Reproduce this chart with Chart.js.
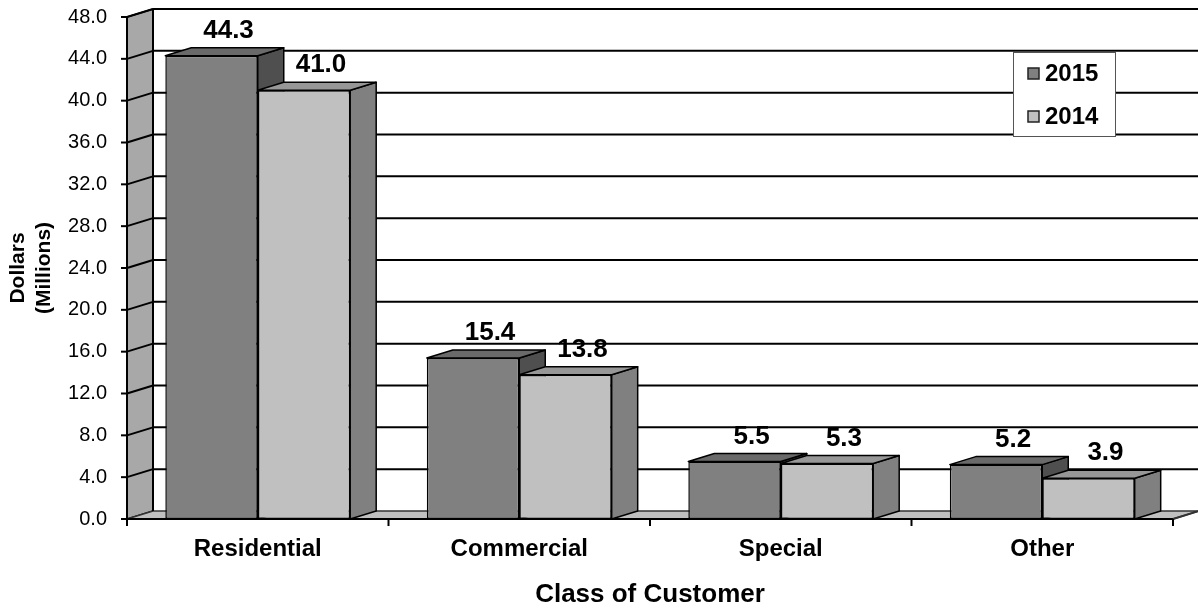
<!DOCTYPE html>
<html>
<head>
<meta charset="utf-8">
<script src="https://cdn.jsdelivr.net/npm/chart.js@4"></script>
<style>
  html, body { margin: 0; padding: 0; background: #fff; }
  canvas { display: block; }
</style>
</head>
<body>
<canvas id="c" width="1198" height="610"></canvas>
<script>
// Revenue by class of customer, 2015 vs 2014, in the old Excel 3-D column style.

const CATEGORIES = ["Residential", "Commercial", "Special", "Other"];
const SERIES_LABELS = ["2015", "2014"];
const VALUES_2015 = [44.3, 15.4, 5.5, 5.2];
const VALUES_2014 = [41.0, 13.8, 5.3, 3.9];
const Y_MIN = 0;
const Y_MAX = 48;
const Y_STEP = 4;

const FONT = "Arial, 'Liberation Sans', sans-serif";

// where the front plane of the plot should sit on the canvas
const AREA = { left: 127, top: 17, right: 1173, bottom: 519 };

// depth of the 3-D box (screen offset of the back plane)
const DX = 26;
const DY = -8;

// front / top / side shades for each series
const SHADES = [
  { front: "#808080", top: "#6a6a6a", side: "#4f4f4f" },
  { front: "#c0c0c0", top: "#979797", side: "#808080" },
];

function line(ctx, x1, y1, x2, y2) {
  ctx.beginPath();
  ctx.moveTo(x1, y1);
  ctx.lineTo(x2, y2);
  ctx.stroke();
}

function poly(ctx, pts, fill) {
  ctx.beginPath();
  ctx.moveTo(pts[0][0], pts[0][1]);
  for (let i = 1; i < pts.length; i++) ctx.lineTo(pts[i][0], pts[i][1]);
  ctx.closePath();
  ctx.fillStyle = fill;
  ctx.fill();
  ctx.stroke();
}

// ---- walls, floor, gridlines and the depth faces of the bars ----
const box3d = {
  id: "box3d",
  beforeDatasetsDraw(chart) {
    const { ctx, chartArea: a } = chart;
    const y = chart.scales.y;
    const L = a.left, R = a.right, T = a.top, B = a.bottom;
    ctx.save();
    ctx.strokeStyle = "#000";
    ctx.lineJoin = "round";

    // side wall and floor
    ctx.lineWidth = 1.5;
    poly(ctx, [[L, B], [L, T], [L + DX, T + DY], [L + DX, B + DY]], "#a8a8a8");
    ctx.strokeStyle = "#333";
    poly(ctx, [[L, B], [L + DX, B + DY], [R + DX, B + DY], [R, B]], "#c0c0c0");
    ctx.strokeStyle = "#000";

    // gridlines: diagonal on the side wall, horizontal on the back wall
    ctx.lineWidth = 2;
    for (let v = Y_MIN + Y_STEP; v <= Y_MAX; v += Y_STEP) {
      const py = y.getPixelForValue(v);
      line(ctx, L - 6, py, L, py);
      line(ctx, L, py, L + DX, py + DY);
      line(ctx, L + DX, py + DY, R + DX + 2, py + DY);
    }
    line(ctx, L - 6, B, L, B);
    line(ctx, L + DX, T + DY, L + DX, B + DY);
    line(ctx, L, T, L, B);

    // depth faces, series in order so the later box covers the earlier side
    ctx.lineWidth = 1.5;
    for (let j = 0; j < CATEGORIES.length; j++) {
      chart.data.datasets.forEach((ds, i) => {
        const bar = chart.getDatasetMeta(i).data[j];
        const x1 = bar.x - bar.width / 2;
        const x2 = bar.x + bar.width / 2;
        const top = bar.y, base = bar.base;
        poly(ctx, [[x2, base], [x2, top], [x2 + DX, top + DY], [x2 + DX, base + DY]], SHADES[i].side);
        poly(ctx, [[x1, top], [x1 + DX, top + DY], [x2 + DX, top + DY], [x2, top]], SHADES[i].top);
      });
    }
    ctx.restore();
  },

  afterDatasetsDraw(chart) {
    const { ctx, chartArea: a } = chart;
    const L = a.left, R = a.right, B = a.bottom;
    ctx.save();
    ctx.strokeStyle = "#000";

    // front edge of the floor and category ticks
    ctx.lineWidth = 2;
    line(ctx, L, B, R, B);
    ctx.strokeStyle = "#333";
    line(ctx, R, B, R + DX, B + DY);
    ctx.strokeStyle = "#000";
    const catW = (R - L) / CATEGORIES.length;
    for (let j = 0; j <= CATEGORIES.length; j++) {
      line(ctx, L + j * catW, B, L + j * catW, B + 7);
    }

    // value labels above each box
    ctx.fillStyle = "#000";
    ctx.font = `bold 26px ${FONT}`;
    ctx.textAlign = "center";
    ctx.textBaseline = "middle";
    chart.data.datasets.forEach((ds, i) => {
      chart.getDatasetMeta(i).data.forEach((bar, j) => {
        ctx.fillText(ds.data[j].toFixed(1), bar.x + 17, bar.y - 25);
      });
    });

    // legend box
    const lx = 1013, ly = 52, lw = 102, lh = 84;
    ctx.fillStyle = "#fff";
    ctx.fillRect(lx, ly, lw, lh);
    ctx.lineWidth = 1;
    ctx.strokeStyle = "#555";
    ctx.strokeRect(lx + 0.5, ly + 0.5, lw, lh);
    ctx.font = `bold 24px ${FONT}`;
    ctx.textAlign = "left";
    chart.data.datasets.forEach((ds, i) => {
      const cy = 73 + i * 43;
      ctx.fillStyle = SHADES[i].front;
      ctx.fillRect(1028, cy - 5, 11, 11);
      ctx.lineWidth = 1.5;
      ctx.strokeStyle = "#222";
      ctx.strokeRect(1028, cy - 5, 11, 11);
      ctx.fillStyle = "#000";
      ctx.fillText(ds.label, 1045, cy + 1);
    });
    ctx.restore();
  },
};

const chart = new Chart(document.getElementById("c"), {
  type: "bar",
  data: {
    labels: CATEGORIES,
    datasets: [
      { label: SERIES_LABELS[0], data: VALUES_2015, backgroundColor: SHADES[0].front },
      { label: SERIES_LABELS[1], data: VALUES_2014, backgroundColor: SHADES[1].front },
    ],
  },
  options: {
    responsive: false,
    devicePixelRatio: 1,
    animation: false,
    layout: { padding: { top: AREA.top, right: 1198 - AREA.right, left: 0, bottom: 0 } },
    datasets: {
      bar: {
        categoryPercentage: 0.707,
        barPercentage: 1,
        borderColor: "#000",
        borderWidth: 1.5,
        borderSkipped: false,
      },
    },
    plugins: {
      legend: { display: false },
      tooltip: { enabled: false },
    },
    scales: {
      x: {
        afterFit: (s) => { s.height = 610 - AREA.bottom; },
        grid: { display: false, drawTicks: false },
        border: { display: false },
        ticks: { color: "#000", padding: 16, font: { family: FONT, size: 24, weight: "bold" } },
        title: {
          display: true,
          text: "Class of Customer",
          color: "#000",
          padding: { top: 0, bottom: 0 },
          font: { family: FONT, size: 26, weight: "bold", lineHeight: 1.2 },
        },
      },
      y: {
        min: Y_MIN,
        max: Y_MAX,
        afterFit: (s) => {
          s.width = AREA.left;
          // tick padding would otherwise push the top of the plot down
          s.paddingTop = 0;
          s.paddingBottom = 0;
        },
        grid: { display: false, drawTicks: false },
        border: { display: false },
        ticks: {
          stepSize: Y_STEP,
          color: "#000",
          padding: 20,
          font: { family: FONT, size: 20 },
          callback: (v) => Number(v).toFixed(1),
        },
        title: {
          display: true,
          text: ["Dollars", "(Millions)"],
          color: "#000",
          padding: { top: 6, bottom: 0 },
          font: { family: FONT, size: 21, weight: "bold", lineHeight: 1.2 },
        },
      },
    },
  },
  plugins: [box3d],
});
</script>
</body>
</html>
